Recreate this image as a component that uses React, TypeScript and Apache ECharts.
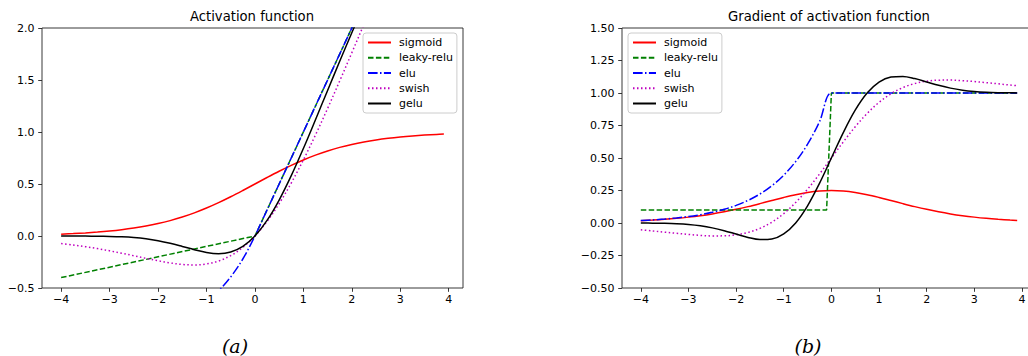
import React, { useEffect, useRef } from "react";
import * as echarts from "echarts";

// shared sample positions (x)
const X = [-4, -3.75, -3.5, -3.25, -3, -2.75, -2.5, -2.25, -2, -1.75, -1.5, -1.25, -1, -0.75, -0.5, -0.25, 0,
  0.25, 0.5, 0.75, 1, 1.25, 1.5, 1.75, 2, 2.25, 2.5, 2.75, 3, 3.25, 3.5, 3.75, 3.9];

// (a) activation values
const SIGMOID = [0.018, 0.023, 0.0293, 0.0373, 0.0474, 0.0601, 0.0759, 0.0954, 0.1192, 0.148, 0.1824, 0.2227, 0.2689, 0.3208, 0.3775, 0.4378, 0.5,
  0.5622, 0.6225, 0.6792, 0.7311, 0.7773, 0.8176, 0.852, 0.8808, 0.9046, 0.9241, 0.9399, 0.9526, 0.9627, 0.9707, 0.977, 0.9802];
const LEAKY_X = [-4, 0, 3.9];
const LEAKY = [-0.4, 0, 3.9];
const ELU = [-0.9817, -0.9765, -0.9698, -0.9612, -0.9502, -0.9361, -0.9179, -0.8946, -0.8647, -0.8262, -0.7769, -0.7135, -0.6321, -0.5276, -0.3935, -0.2212, 0,
  0.25, 0.5, 0.75, 1, 1.25, 1.5, 1.75, 2, 2.25, 2.5, 2.75, 3, 3.25, 3.5, 3.75, 3.9];
const SWISH = [-0.0719, -0.0863, -0.1025, -0.1212, -0.1423, -0.1653, -0.1898, -0.2147, -0.2384, -0.259, -0.2736, -0.2784, -0.2689, -0.2406, -0.1888, -0.1094, 0,
  0.1406, 0.3112, 0.5094, 0.7311, 0.9716, 1.2264, 1.491, 1.7616, 2.0353, 2.3102, 2.5847, 2.8577, 3.1288, 3.3975, 3.6638, 3.8228];
const GELU = [-0.0001, -0.0003, -0.0008, -0.0019, -0.0041, -0.0082, -0.0155, -0.0275, -0.0455, -0.0701, -0.1002, -0.1321, -0.1587, -0.17, -0.1543, -0.1003, 0,
  0.1497, 0.3457, 0.58, 0.8413, 1.1179, 1.3998, 1.6799, 1.9545, 2.2225, 2.4845, 2.7418, 2.996, 3.2481, 3.4992, 3.7497, 3.8998];

// (b) gradient values
const D_SIGMOID = [0.0177, 0.0225, 0.0285, 0.0359, 0.0452, 0.0565, 0.0701, 0.0863, 0.105, 0.1261, 0.1491, 0.1731, 0.1966, 0.2179, 0.235, 0.2461, 0.25,
  0.2461, 0.235, 0.2179, 0.1966, 0.1731, 0.1491, 0.1261, 0.105, 0.0863, 0.0701, 0.0565, 0.0452, 0.0359, 0.0285, 0.0225, 0.0194];
const D_LEAKY_X = [-4, -0.1, 0, 3.9];
const D_LEAKY = [0.1, 0.1, 1, 1];
const D_ELU = [0.0183, 0.0235, 0.0302, 0.0388, 0.0498, 0.0639, 0.0821, 0.1054, 0.1353, 0.1738, 0.2231, 0.2865, 0.3679, 0.4724, 0.6065, 0.7788, 1,
  1, 1, 1, 1, 1, 1, 1, 1, 1, 1, 1, 1, 1, 1, 1, 1];
const D_SWISH = [-0.0527, -0.0613, -0.0705, -0.0794, -0.0881, -0.0952, -0.0993, -0.0988, -0.0908, -0.0727, -0.0413, 0.0063, 0.0723, 0.1574, 0.26, 0.3763, 0.5,
  0.6237, 0.74, 0.8426, 0.9277, 0.9937, 1.0413, 1.0727, 1.0908, 1.0988, 1.0993, 1.0952, 1.0881, 1.0794, 1.0705, 1.0613, 1.0559];
const D_GELU = [-0.0005, -0.0012, -0.0028, -0.006, -0.0119, -0.022, -0.0376, -0.0591, -0.0852, -0.111, -0.1275, -0.1226, -0.0833, 0.0008, 0.1325, 0.3046, 0.5,
  0.6954, 0.8675, 0.9992, 1.0833, 1.1226, 1.1275, 1.111, 1.0852, 1.0591, 1.0376, 1.022, 1.0119, 1.006, 1.0028, 1.0012, 1.0008];

const NAMES = ["sigmoid", "leaky-relu", "elu", "swish", "gelu"];
const X_TICKS = [-4, -3, -2, -1, 0, 1, 2, 3, 4];
const TITLES = ["Activation function", "Gradient of activation function"];
const CAPTIONS = ["(a)", "(b)"];

const FONT = "DejaVu Sans";
const STYLE: Record<string, { color: string; type: any; smooth: number | boolean }> = {
  sigmoid: { color: "#ff0000", type: "solid", smooth: 0.35 },
  "leaky-relu": { color: "#008000", type: [5.5, 2.4], smooth: false },
  elu: { color: "#0000ff", type: [9.6, 2.4, 1.5, 2.4], smooth: 0.35 },
  swish: { color: "#bf00bf", type: [1.5, 2.5], smooth: 0.35 },
  gelu: { color: "#000000", type: "solid", smooth: 0.35 },
};

const minus = (s: string) => s.replace("-", "\u2212");

function makeSeries(name: string, xs: number[], ys: number[], idx: number) {
  const st = STYLE[name];
  return {
    type: "line",
    name,
    xAxisIndex: idx,
    yAxisIndex: idx,
    data: xs.map((x, i) => [x, ys[i]]),
    showSymbol: false,
    symbol: "none",
    smooth: st.smooth,
    clip: true,
    lineStyle: { color: st.color, width: 1.5, type: st.type, cap: "butt" },
    itemStyle: { color: st.color },
    emphasis: { disabled: true },
  };
}

function xAxis(gridIndex: number) {
  return {
    type: "value",
    gridIndex,
    position: "bottom",
    min: -4.395,
    max: 4.295,
    splitLine: { show: false },
    axisLine: { show: false, onZero: false },
    axisTick: { show: true, inside: false, length: 3.8, customValues: X_TICKS, lineStyle: { color: "#222", width: 0.9 } },
    axisLabel: {
      show: true,
      customValues: X_TICKS,
      margin: 6,
      fontFamily: FONT,
      fontSize: 11,
      color: "#000",
      formatter: (v: number) => minus(String(v)),
    },
  };
}

function yAxis(gridIndex: number, min: number, max: number, interval: number, digits: number) {
  return {
    type: "value",
    gridIndex,
    position: "left",
    min,
    max,
    interval,
    splitLine: { show: false },
    axisLine: { show: false, onZero: false },
    axisTick: { show: true, inside: false, length: 3.8, lineStyle: { color: "#222", width: 0.9 } },
    axisLabel: {
      margin: 7.5,
      fontFamily: FONT,
      fontSize: 11,
      color: "#000",
      formatter: (v: number) => minus(v.toFixed(digits)),
    },
  };
}

function legend(left: number) {
  return {
    data: NAMES,
    orient: "vertical",
    left,
    top: 33,
    padding: [4, 4, 4, 4],
    itemWidth: 23,
    itemHeight: 12,
    itemGap: 4.25,
    backgroundColor: "rgba(255,255,255,0.8)",
    borderColor: "#cccccc",
    borderWidth: 1,
    borderRadius: 3,
    selectedMode: false,
    itemStyle: { opacity: 0 },
    textStyle: { fontFamily: FONT, fontSize: 11, color: "#000", padding: [0, 0, 0, 3] },
  };
}

export default function App() {
  const ref = useRef<HTMLDivElement>(null);
  useEffect(() => {
    const chart = echarts.init(ref.current!, null, { renderer: "svg" });
    const grids = [
      { left: 42, top: 28, width: 421, height: 260 },
      { left: 622, top: 28, width: 414, height: 260 },
    ];
    const titleStyle = { fontFamily: FONT, fontSize: 13.2, fontWeight: "normal", color: "#000" };
    const captionStyle = { fontSize: 19, fontStyle: "italic", fontFamily: "DejaVu Serif", fill: "#000", align: "center", verticalAlign: "middle" };
    const option: any = {
      animation: false,
      backgroundColor: "#ffffff",
      title: [
        { text: TITLES[0], left: 252, top: 10, padding: 0, textAlign: "center", textStyle: titleStyle },
        { text: TITLES[1], left: 829, top: 10, padding: 0, textAlign: "center", textStyle: titleStyle },
      ],
      grid: grids.map((g) => ({ ...g, show: true, borderColor: "#222", borderWidth: 0.9, backgroundColor: "transparent" })),
      xAxis: [xAxis(0), xAxis(1)],
      yAxis: [yAxis(0, -0.5, 2.0, 0.5, 1), yAxis(1, -0.5, 1.5, 0.25, 2)],
      legend: [legend(363), legend(628)],
      series: [
        makeSeries("sigmoid", X, SIGMOID, 0),
        makeSeries("leaky-relu", LEAKY_X, LEAKY, 0),
        makeSeries("elu", X, ELU, 0),
        makeSeries("swish", X, SWISH, 0),
        makeSeries("gelu", X, GELU, 0),
        makeSeries("sigmoid", X, D_SIGMOID, 1),
        makeSeries("leaky-relu", D_LEAKY_X, D_LEAKY, 1),
        makeSeries("elu", X, D_ELU, 1),
        makeSeries("swish", X, D_SWISH, 1),
        makeSeries("gelu", X, D_GELU, 1),
      ],
      graphic: [
        { type: "text", x: 235, y: 346, style: { text: CAPTIONS[0], ...captionStyle } },
        { type: "text", x: 808, y: 346, style: { text: CAPTIONS[1], ...captionStyle } },
      ],
    };
    chart.setOption(option);
    return () => chart.dispose();
  }, []);
  return (
    <div style={{ position: "fixed", left: 0, top: 0, width: 1028, height: 356, overflow: "hidden", background: "#fff" }}>
      <div ref={ref} style={{ width: 1044, height: 356 }} />
    </div>
  );
}
